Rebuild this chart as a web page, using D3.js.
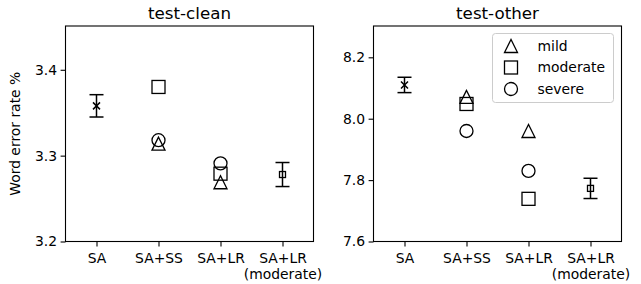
<!DOCTYPE html>
<html>
<head>
<meta charset="utf-8">
<script src="https://cdn.jsdelivr.net/npm/d3@7"></script>
<style>
  body { margin: 0; background: #fff; }
  svg { display: block; font-family: "DejaVu Sans", sans-serif; }
</style>
</head>
<body>
<div id="chart"></div>
<script>
// categories on the x axis
const categories = ["SA", "SA+SS", "SA+LR", "SA+LR\n(moderate)"];
const severities = ["mild", "moderate", "severe"];

// test-clean
const cleanBaseline = { mean: 3.358, err: 0.013 };
const cleanSS = { mild: 3.314, moderate: 3.380, severe: 3.318 };
const cleanLR = { mild: 3.269, moderate: 3.279, severe: 3.291 };
const cleanLRMod = { mean: 3.278, err: 0.014 };
const cleanTicks = [3.2, 3.3, 3.4];

// test-other
const otherBaseline = { mean: 8.110, err: 0.025 };
const otherSS = { mild: 8.071, moderate: 8.048, severe: 7.960 };
const otherLR = { mild: 7.960, moderate: 7.739, severe: 7.830 };
const otherLRMod = { mean: 7.773, err: 0.033 };
const otherTicks = [7.6, 7.8, 8.0, 8.2];

const W = 641, H = 284;
const svg = d3.select("#chart").append("svg").attr("width", W).attr("height", H);

const markerSize = 13;

function drawMarker(g, kind, cx, cy, s) {
  if (kind === "mild") {
    g.append("path")
      .attr("d", `M${cx},${cy - s / 2}L${cx - s / 2},${cy + s / 2}L${cx + s / 2},${cy + s / 2}Z`)
      .attr("fill", "none").attr("stroke", "#000").attr("stroke-width", 1.3);
  } else if (kind === "moderate") {
    g.append("rect")
      .attr("x", cx - s / 2).attr("y", cy - s / 2)
      .attr("width", s).attr("height", s)
      .attr("fill", "none").attr("stroke", "#000").attr("stroke-width", 1.3);
  } else {
    g.append("circle")
      .attr("cx", cx).attr("cy", cy).attr("r", s / 2)
      .attr("fill", "none").attr("stroke", "#000").attr("stroke-width", 1.3);
  }
}

function panel(opts) {
  const { left, right, top, bottom, title, domain, ticks, base, ss, lr, lrMod, ylabel, legend } = opts;
  const g = svg.append("g");
  const x = d3.scaleLinear().domain([-0.5, 3.5]).range([left, right]);
  const y = d3.scaleLinear().domain(domain).range([bottom, top]);

  // y axis
  const yAxis = d3.axisLeft(y).tickValues(ticks).tickFormat(d3.format(".1f")).tickSize(4.9).tickPadding(3.5);
  const ya = g.append("g").attr("transform", `translate(${left},0)`).call(yAxis);
  ya.select(".domain").remove();
  ya.selectAll("text").attr("font-size", 13.9).attr("fill", "#000").attr("font-family", "DejaVu Sans");
  ya.selectAll("line").attr("stroke", "#000").attr("stroke-width", 1.1);

  // x axis
  const xAxis = d3.axisBottom(x).tickValues([0, 1, 2, 3]).tickFormat(() => "").tickSize(4.9);
  const xa = g.append("g").attr("transform", `translate(0,${bottom})`).call(xAxis);
  xa.select(".domain").remove();
  xa.selectAll("line").attr("stroke", "#000").attr("stroke-width", 1.1);
  xa.selectAll(".tick").each(function (d) {
    const lines = categories[d].split("\n");
    const t = d3.select(this).append("text")
      .attr("fill", "#000").attr("font-size", 13.9).attr("text-anchor", "middle")
      .attr("font-family", "DejaVu Sans");
    lines.forEach((s, i) => {
      t.append("tspan").attr("x", 0).attr("y", 21.5 + i * 16).text(s);
    });
  });

  // frame
  g.append("rect").attr("x", left).attr("y", top)
    .attr("width", right - left).attr("height", bottom - top)
    .attr("fill", "none").attr("stroke", "#000").attr("stroke-width", 1.1);

  g.append("text").attr("x", (left + right) / 2).attr("y", top - 7.5)
    .attr("text-anchor", "middle").attr("font-size", 16.7).text(title);

  if (ylabel) {
    g.append("text")
      .attr("transform", `translate(20,${(top + bottom) / 2}) rotate(-90)`)
      .attr("text-anchor", "middle").attr("font-size", 13.9).text(ylabel);
  }

  const errorbar = (xi, d) => {
    const cx = x(xi);
    g.append("line").attr("x1", cx).attr("x2", cx)
      .attr("y1", y(d.mean - d.err)).attr("y2", y(d.mean + d.err))
      .attr("stroke", "#000").attr("stroke-width", 1.5);
    [d.mean - d.err, d.mean + d.err].forEach(v => {
      g.append("line").attr("x1", cx - 7).attr("x2", cx + 7)
        .attr("y1", y(v)).attr("y2", y(v))
        .attr("stroke", "#000").attr("stroke-width", 1.5);
    });
  };

  // baseline: x marker with error bar
  errorbar(0, base);
  const bx = x(0), by = y(base.mean), m = 3.5;
  g.append("path").attr("d", `M${bx - m},${by - m}L${bx + m},${by + m}M${bx - m},${by + m}L${bx + m},${by - m}`)
    .attr("stroke", "#000").attr("stroke-width", 1.5);

  // severities
  severities.forEach(k => drawMarker(g, k, x(1), y(ss[k]), markerSize));
  severities.forEach(k => drawMarker(g, k, x(2), y(lr[k]), markerSize));

  // moderate with error bar
  errorbar(3, lrMod);
  g.append("rect").attr("x", x(3) - 3).attr("y", y(lrMod.mean) - 3)
    .attr("width", 6).attr("height", 6)
    .attr("fill", "none").attr("stroke", "#000").attr("stroke-width", 1.3);

  if (legend) {
    const lx = 492.5, ly = 33.5, lw = 121, lh = 69;
    g.append("rect").attr("x", lx).attr("y", ly).attr("width", lw).attr("height", lh)
      .attr("rx", 3).attr("fill", "#fff").attr("fill-opacity", 0.8)
      .attr("stroke", "#ccc").attr("stroke-width", 1);
    severities.forEach((k, i) => {
      const yy = ly + 12.5 + i * 21.5;
      drawMarker(g, k, lx + 18.5, yy, markerSize);
      g.append("text").attr("x", lx + 45).attr("y", yy).attr("dy", "0.35em")
        .attr("font-size", 13.9).text(k);
    });
  }
}

panel({
  left: 65.5, right: 313.5, top: 26, bottom: 241.5,
  title: "test-clean", domain: [3.2, 3.451], ticks: cleanTicks,
  base: cleanBaseline, ss: cleanSS, lr: cleanLR, lrMod: cleanLRMod,
  ylabel: "Word error rate %", legend: false
});

panel({
  left: 373.5, right: 621.5, top: 26, bottom: 241.5,
  title: "test-other", domain: [7.6, 8.302], ticks: otherTicks,
  base: otherBaseline, ss: otherSS, lr: otherLR, lrMod: otherLRMod,
  ylabel: null, legend: true
});
</script>
</body>
</html>
